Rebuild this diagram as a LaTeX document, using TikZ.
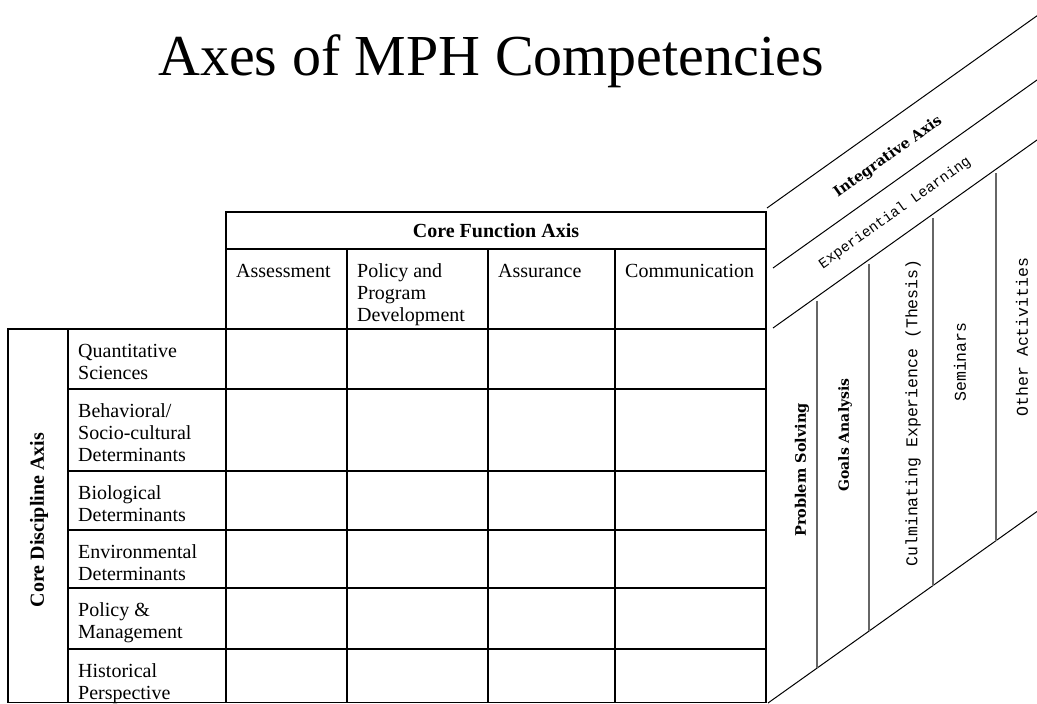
\documentclass[tikz,border=0pt]{standalone}
\usepackage{fontspec}
\setmainfont{Liberation Serif}
\newfontfamily\typefont{Liberation Mono}
\newfontfamily\widefont{DejaVu Serif}

\begin{document}
\begin{tikzpicture}[x=1pt,y=-1pt,
    grid/.style={line width=1.4pt},
    slant/.style={line width=1pt},
    divider/.style={line width=1.2pt,black!60},
    cell/.style={anchor=north west,inner sep=0pt,align=left,font=\fontsize{20}{22}\selectfont},
    axis/.style={inner sep=0pt,font=\fontsize{20}{22}\selectfont\bfseries},
    activity/.style={rotate=90,inner sep=0pt,font=\typefont\fontsize{16.5}{18}\selectfont},
    skill/.style={rotate=90,inner sep=0pt,font=\widefont\bfseries\fontsize{14.5}{16}\selectfont}]
    \useasboundingbox (0,0) rectangle (1037,704);

    \node[anchor=base,inner sep=0pt,font=\fontsize{58}{60}\selectfont] (title) at (491,75) {Axes of MPH Competencies};

    % table
    \draw[grid] (226,212) rectangle (766,329);
    \draw[grid] (8,329) rectangle (766,702.5);
    \draw[grid] (226,249) -- (766,249);
    \draw[grid] (68,329) -- (68,702.5);
    \foreach \x in {226,347,488,615} \draw[grid] (\x,249) -- (\x,702.5);
    \foreach \y in {389,471,530,588,649} \draw[grid] (68,\y) -- (766,\y);

    \node[axis] (function) at (496,231) {Core Function Axis};
    \node[axis,rotate=90] (discipline) at (39,520) {Core Discipline Axis};

    \node[cell] (assess) at (236,262) {\strut Assessment};
    \node[cell] (policy) at (357,262) {\strut Policy and\\Program\\Development};
    \node[cell] (assur) at (498,262) {\strut Assurance};
    \node[cell] (comm) at (625,262) {\strut Communication};

    \node[cell] (quant) at (78,342) {\strut Quantitative\\Sciences};
    \node[cell] (behav) at (78,402) {\strut Behavioral/\\Socio-cultural\\Determinants};
    \node[cell] (bio) at (78,484) {\strut Biological\\Determinants};
    \node[cell] (env) at (78,543) {\strut Environmental\\Determinants};
    \node[cell] (manage) at (78,601) {\strut Policy \&\\Management};
    \node[cell] (hist) at (78,662) {\strut Historical\\Perspective};

    % integrative axis
    \draw[slant] (767,208) -- (1037,15.8);
    \draw[slant] (773,268) -- (1037,80);
    \draw[slant] (773,328) -- (1037,140);
    \draw[slant] (768,703) -- (1037,511.5);
    \foreach \x in {817,869,933,996}
        \draw[divider] (\x,{332-0.712*(\x-773)}) -- (\x,{703-0.712*(\x-768)});

    \node[skill,rotate=-54.55] (integr) at (888,157) {Integrative Axis};
    \node[rotate=35.45,inner sep=0pt,font=\typefont\fontsize{14.5}{16}\selectfont] (exper) at (895,213) {Experiential Learning};

    \node[skill] (problem) at (802,470) {Problem Solving};
    \node[skill,font=\widefont\bfseries\fontsize{14}{16}\selectfont] (goals) at (845,435) {Goals Analysis};
    \node[activity] (thesis) at (913,413) {Culminating Experience (Thesis)};
    \node[activity] (seminar) at (960,362) {Seminars};
    \node[activity] (other) at (1022,337) {Other Activities};
\end{tikzpicture}
\end{document}
